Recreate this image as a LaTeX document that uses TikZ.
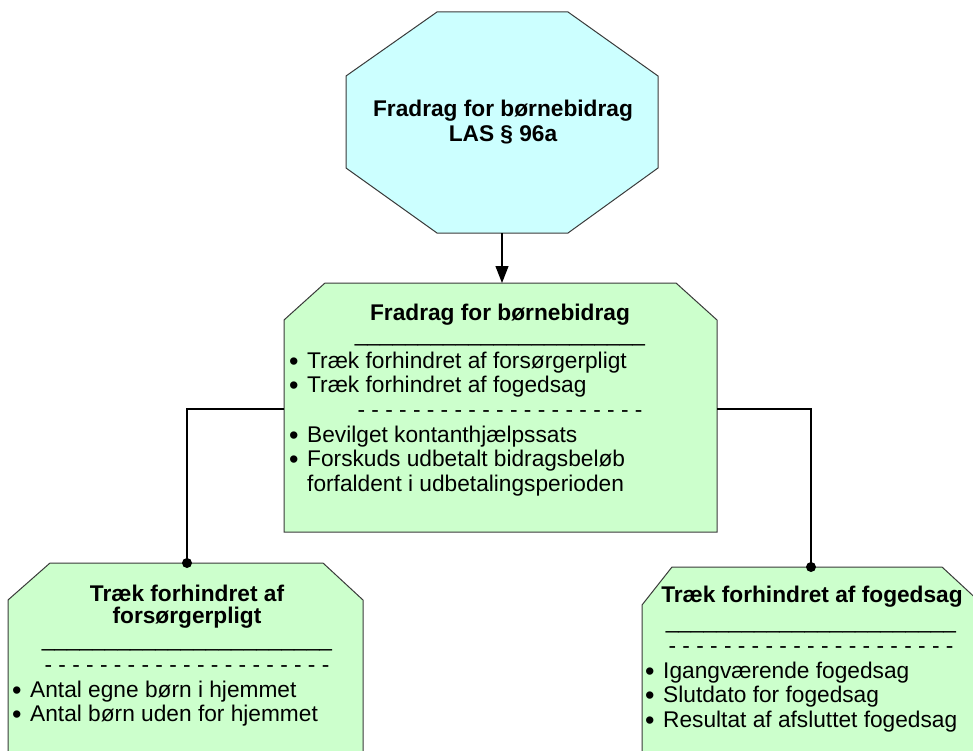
\documentclass[tikz,border=0pt]{standalone}
\usepackage{fontspec}
\setmainfont{Liberation Sans}
\usetikzlibrary{arrows.meta}
\definecolor{cyanfill}{HTML}{CCFFFF}
\definecolor{greenfill}{HTML}{CCFFCC}
\definecolor{edgecol}{HTML}{3A3A3A}
\newcommand\bulmark{\makebox[18pt][l]{\raisebox{-2pt}{\fontsize{27}{27}\selectfont •}}}
\begin{document}
\begin{tikzpicture}[x=1pt,y=-1pt,
  shapebox/.style={draw=edgecol, line width=1pt},
  txt/.style={font=\fontsize{22.7}{25}\selectfont, inner sep=0pt, anchor=base},
  bold/.style={txt, font=\fontsize{22.7}{25}\selectfont\bfseries},
  item/.style={txt, anchor=base west},
  conn/.style={line width=1.2pt, draw=black},
  dot/.style={circle, fill=black, inner sep=0pt, minimum size=10pt}]
\useasboundingbox (0,0) rectangle (973,751);
\clip (0,0) rectangle (973,751);

% shapes
\filldraw[shapebox, fill=cyanfill] (437,12) -- (568,12) -- (658,76) -- (658,168) -- (568,233) -- (437,233) -- (346,168) -- (346,76) -- cycle;
\filldraw[shapebox, fill=greenfill] (325,283) -- (676,283) -- (717,320) -- (717,532) -- (284,532) -- (284,320) -- cycle;
\filldraw[shapebox, fill=greenfill] (50,563) -- (323,563) -- (363,600) -- (363,770) -- (8,770) -- (8,600) -- cycle;
\filldraw[shapebox, fill=greenfill] (672,567) -- (942,567) -- (982,604) -- (982,770) -- (642,770) -- (642,605) -- cycle;

% connection points
\coordinate (oct-s) at (502,233);
\coordinate (main-n) at (502,283);
\coordinate (main-w) at (284,409);
\coordinate (main-e) at (717,409);
\coordinate (left-n) at (187,563);
\coordinate (right-n) at (811,567);

% octagon text
\node[bold] (oct-t1) at (503,117) {Fradrag for børnebidrag};
\node[bold] (oct-t2) at (503,142) {LAS § 96a};

% main box text
\node[bold] (main-t) at (500,320) {Fradrag for børnebidrag};
\node[txt] (main-u) at (500,341) {\_\_\_\_\_\_\_\_\_\_\_\_\_\_\_\_\_\_\_\_\_\_\_};
\node[item] (main-b1) at (289,368) {\bulmark Træk forhindret af forsørgerpligt};
\node[item] (main-b2) at (289,392.5) {\bulmark Træk forhindret af fogedsag};
\node[txt] (main-d) at (500,417.5) {- - - - - - - - - - - - - - - - - - - - -};
\node[item] (main-b3) at (289,442) {\bulmark Bevilget kontanthjælpssats};
\node[item] (main-b4) at (289,466.5) {\bulmark Forskuds udbetalt bidragsbeløb};
\node[item] (main-b5) at (307,491) {forfaldent i udbetalingsperioden};

% left box text
\node[bold] (left-t1) at (187,601) {Træk forhindret af};
\node[bold] (left-t2) at (187,623) {forsørgerpligt};
\node[txt] (left-u) at (187,646) {\_\_\_\_\_\_\_\_\_\_\_\_\_\_\_\_\_\_\_\_\_\_\_};
\node[txt] (left-d) at (187,672) {- - - - - - - - - - - - - - - - - - - - -};
\node[item] (left-b1) at (12,697) {\bulmark Antal egne børn i hjemmet};
\node[item] (left-b2) at (12,721.5) {\bulmark Antal børn uden for hjemmet};

% right box text
\node[bold] (right-t) at (812,602) {Træk forhindret af fogedsag};
\node[txt] (right-u) at (811,628) {\_\_\_\_\_\_\_\_\_\_\_\_\_\_\_\_\_\_\_\_\_\_\_};
\node[txt] (right-d) at (811,653) {- - - - - - - - - - - - - - - - - - - - -};
\node[item] (right-b1) at (645,678) {\bulmark Igangværende fogedsag};
\node[item] (right-b2) at (645,702.5) {\bulmark Slutdato for fogedsag};
\node[item] (right-b3) at (645,727) {\bulmark Resultat af afsluttet fogedsag};

% connectors
\draw[conn, -{Triangle[width=13pt,length=17pt]}] (oct-s) -- (main-n);
\draw[conn] (main-w) -| (left-n);
\draw[conn] (main-e) -| (right-n);
\node[dot] (left-dot) at (left-n) {};
\node[dot] (right-dot) at (right-n) {};
\end{tikzpicture}
\end{document}
